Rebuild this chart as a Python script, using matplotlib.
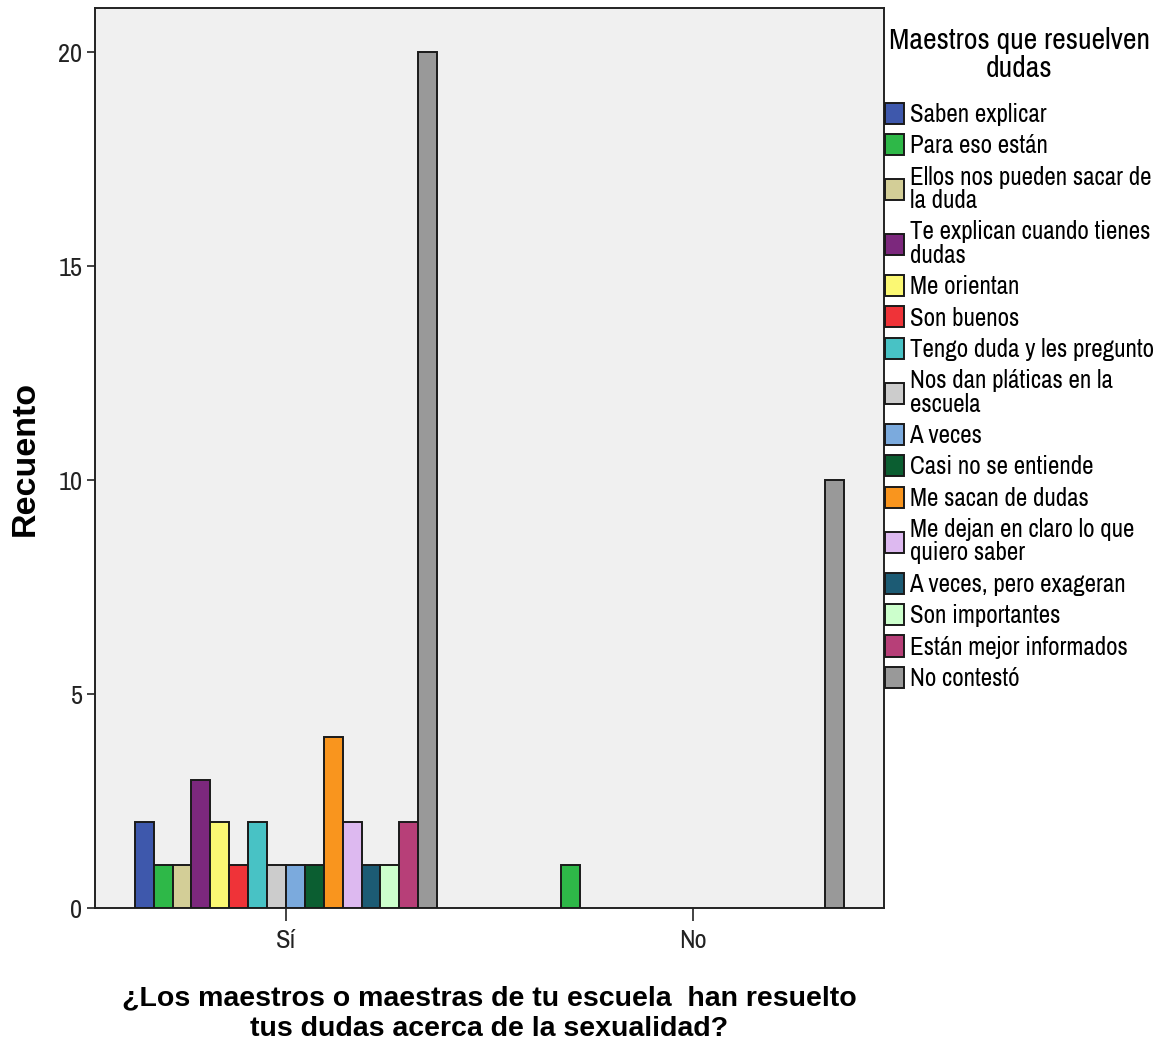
import textwrap
import matplotlib
matplotlib.use("Agg")
import matplotlib.pyplot as plt
import numpy as np

groups = ["Sí", "No"]
categories = [
    "Saben explicar", "Para eso están", "Ellos nos pueden sacar de la duda",
    "Te explican cuando tienes dudas", "Me orientan", "Son buenos",
    "Tengo duda y les pregunto", "Nos dan pláticas en la escuela", "A veces",
    "Casi no se entiende", "Me sacan de dudas", "Me dejan en claro lo que quiero saber",
    "A veces, pero exageran", "Son importantes", "Están mejor informados", "No contestó",
]
values_si = [2, 1, 1, 3, 2, 1, 2, 1, 1, 1, 4, 2, 1, 1, 2, 20]
values_no = [0, 1, 0, 0, 0, 0, 0, 0, 0, 0, 0, 0, 0, 0, 0, 10]
colors = [
    "#3E58AC", "#2EB848", "#D3CE97", "#7C287D", "#FBF873", "#EF3338",
    "#48C2C5", "#CCCCCC", "#7BAADD", "#0B5E31", "#F9951E", "#DDB9F0",
    "#1C5B74", "#CCFFCC", "#B73F78", "#999999",
]
yticks = [0, 5, 10, 15, 20]

NARROW = ["Archivo Narrow", "Liberation Sans", "DejaVu Sans"]
WIDE = ["Liberation Sans", "DejaVu Sans"]
plt.rcParams["font.family"] = NARROW

fig = plt.figure(figsize=(11.67, 10.47), dpi=100)
ax = fig.add_axes([95/1167, 1-908/1047, (884-95)/1167, 900/1047])
ax.set_facecolor("#F0F0F0")

n = len(categories)
w = 0.0464
xc = np.arange(len(groups))
data = [values_si, values_no]
handles = []
for i in range(n):
    for g in range(len(groups)):
        v = data[g][i]
        if v > 0:
            ax.bar(xc[g] + (i - (n - 1) / 2) * w, v, width=w, color=colors[i],
                   edgecolor="#1a1a1a", linewidth=1.4, zorder=3)
    handles.append(plt.Rectangle((0, 0), 1, 1, facecolor=colors[i],
                                 edgecolor="#1a1a1a", linewidth=1.4))

ax.set_xlim(-0.469, 1.469)
ax.set_ylim(0, 21.03)
ax.set_yticks(yticks)
ax.set_xticks(xc)
ax.set_xticklabels(groups)
ax.tick_params(axis="y", length=6, width=1.2, labelsize=19, colors="#222222", pad=3)
ax.tick_params(axis="x", length=9, width=1.2, labelsize=19, colors="#222222", pad=6)
for s in ax.spines.values():
    s.set_linewidth(1.4)
    s.set_color("#222222")

ax.set_ylabel("Recuento", fontsize=24.5, fontweight="bold", family=WIDE, labelpad=13)
ax.set_xlabel("¿Los maestros o maestras de tu escuela  han resuelto\ntus dudas acerca de la sexualidad?",
              fontsize=20.5, fontweight="bold", family=WIDE, labelpad=24, linespacing=1.22)

labels = [textwrap.fill(c, 25) for c in categories]
leg = fig.legend(handles, labels, loc="upper left", bbox_to_anchor=(885/1167, 1-27/1047),
                 frameon=False, prop={"family": NARROW, "size": 18},
                 title="Maestros que resuelven\ndudas",
                 title_fontproperties={"family": NARROW, "size": 21.5},
                 handlelength=0.76, handleheight=0.92,
                 handletextpad=0.22, labelspacing=0.33, borderaxespad=0, borderpad=0)
leg.get_title().set_multialignment("center")
leg.get_title().set_linespacing(1.05)
leg._legend_box.align = "center"
leg._legend_box.sep = 15
for t in leg.get_texts():
    t.set_linespacing(1.02)

fig.savefig("out.png", dpi=100)
